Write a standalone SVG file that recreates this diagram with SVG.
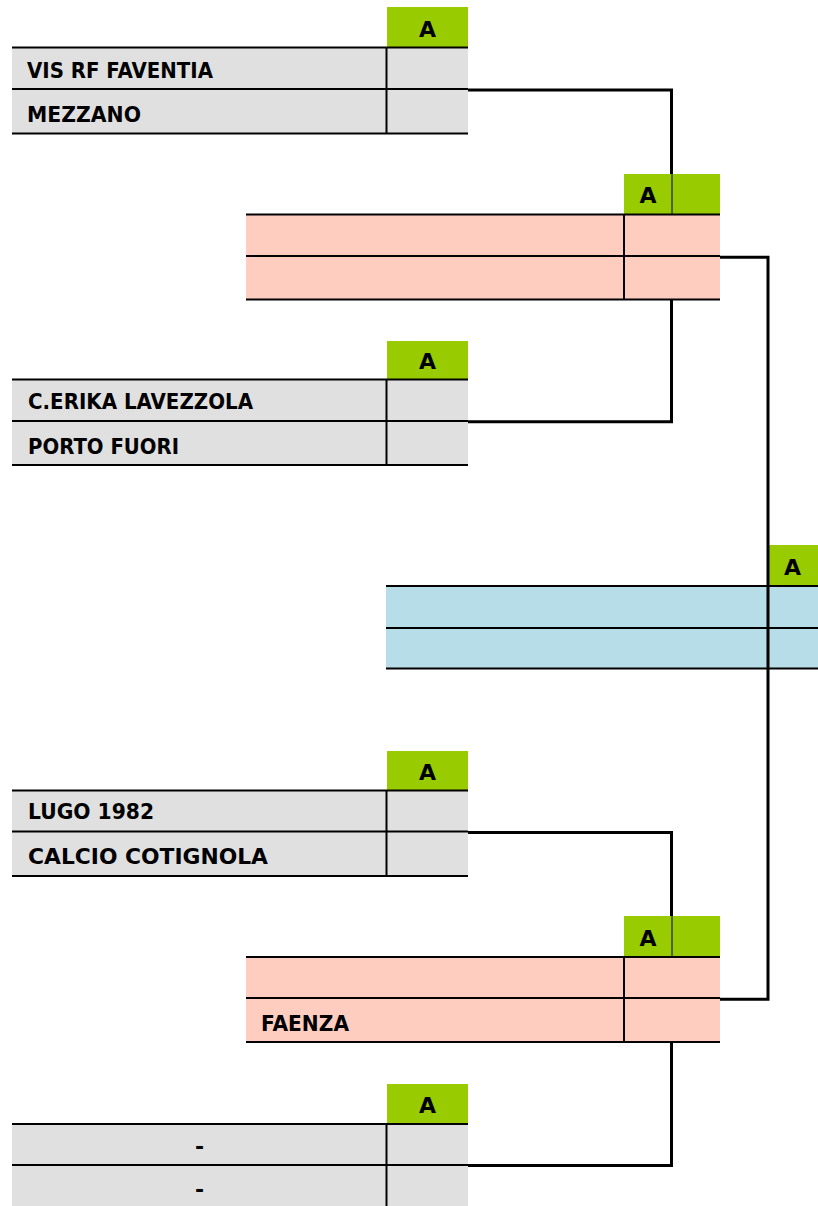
<svg xmlns="http://www.w3.org/2000/svg" width="818" height="1206" viewBox="0 0 818 1206">
<style>
.grey{fill:#E0E0E0}
.pink{fill:#FFCCC0}
.blue{fill:#B7DDE8}
.green{fill:#99CC00}
.hl{stroke:#000;stroke-width:2;fill:none}
.vl{stroke:#000;stroke-width:2;fill:none}
.thin{stroke:#000;stroke-width:1;fill:none}
.conn{stroke:#000;stroke-width:3;fill:none}
text{font-family:"DejaVu Sans","Liberation Sans",sans-serif;font-weight:bold;font-size:22px;fill:#000}
.c{text-anchor:middle}
</style>
<rect width="818" height="1206" fill="#fff"/>

<g id="match1">
<rect class="green" x="387" y="7" width="81" height="40"/>
<text class="c" x="427.5" y="36.5">A</text>
<rect class="grey" x="12" y="47" width="456" height="86"/>
<line class="hl" x1="12" y1="47.5" x2="468" y2="47.5"/>
<line class="hl" x1="12" y1="89" x2="468" y2="89"/>
<line class="hl" x1="12" y1="133.5" x2="468" y2="133.5"/>
<line class="vl" x1="386.5" y1="47" x2="386.5" y2="133"/>
<text x="27" y="78" textLength="186" lengthAdjust="spacingAndGlyphs">VIS RF FAVENTIA</text>
<text x="27" y="121.5" textLength="114" lengthAdjust="spacingAndGlyphs">MEZZANO</text>
</g>

<g id="match2">
<rect class="green" x="624" y="174" width="96" height="40"/>
<line class="thin" x1="672" y1="174" x2="672" y2="214"/>
<text class="c" x="648" y="203.3">A</text>
<rect class="pink" x="246" y="214" width="474" height="86"/>
<line class="hl" x1="246" y1="214.5" x2="720" y2="214.5"/>
<line class="hl" x1="246" y1="256" x2="720" y2="256"/>
<line class="hl" x1="246" y1="299.5" x2="720" y2="299.5"/>
<line class="vl" x1="624" y1="214" x2="624" y2="300"/>
</g>

<g id="match3">
<rect class="green" x="387" y="341" width="81" height="38"/>
<text class="c" x="427.5" y="369">A</text>
<rect class="grey" x="12" y="379" width="456" height="86"/>
<line class="hl" x1="12" y1="379.5" x2="468" y2="379.5"/>
<line class="hl" x1="12" y1="421" x2="468" y2="421"/>
<line class="hl" x1="12" y1="465" x2="468" y2="465"/>
<line class="vl" x1="386.5" y1="379" x2="386.5" y2="465"/>
<text x="28" y="408.5" textLength="225" lengthAdjust="spacingAndGlyphs">C.ERIKA LAVEZZOLA</text>
<text x="28" y="453.5" textLength="151" lengthAdjust="spacingAndGlyphs">PORTO FUORI</text>
</g>

<g id="final">
<rect class="green" x="769" y="545" width="49" height="41"/>
<text class="c" x="792.5" y="575">A</text>
<rect class="blue" x="386" y="586" width="432" height="83"/>
<line class="hl" x1="386" y1="586" x2="818" y2="586"/>
<line class="hl" x1="386" y1="628" x2="818" y2="628"/>
<line class="hl" x1="386" y1="668.5" x2="818" y2="668.5"/>
</g>

<g id="match5">
<rect class="green" x="387" y="751" width="81" height="39"/>
<text class="c" x="427.5" y="780">A</text>
<rect class="grey" x="12" y="790" width="456" height="86"/>
<line class="hl" x1="12" y1="790.5" x2="468" y2="790.5"/>
<line class="hl" x1="12" y1="831.5" x2="468" y2="831.5"/>
<line class="hl" x1="12" y1="876" x2="468" y2="876"/>
<line class="vl" x1="386.5" y1="790" x2="386.5" y2="876"/>
<text x="28" y="818.5" textLength="126" lengthAdjust="spacingAndGlyphs">LUGO 1982</text>
<text x="28" y="864" textLength="240" lengthAdjust="spacingAndGlyphs">CALCIO COTIGNOLA</text>
</g>

<g id="match6">
<rect class="green" x="624" y="916" width="96" height="41"/>
<line class="thin" x1="672" y1="916" x2="672" y2="957"/>
<text class="c" x="648" y="945.5">A</text>
<rect class="pink" x="246" y="957" width="474" height="85"/>
<line class="hl" x1="246" y1="957" x2="720" y2="957"/>
<line class="hl" x1="246" y1="998" x2="720" y2="998"/>
<line class="hl" x1="246" y1="1042" x2="720" y2="1042"/>
<line class="vl" x1="624" y1="957" x2="624" y2="1042"/>
<text x="261" y="1030.5" textLength="88" lengthAdjust="spacingAndGlyphs">FAENZA</text>
</g>

<g id="match7">
<rect class="green" x="387" y="1084" width="81" height="40"/>
<text class="c" x="427.5" y="1113">A</text>
<rect class="grey" x="12" y="1124" width="456" height="82"/>
<line class="hl" x1="12" y1="1124" x2="468" y2="1124"/>
<line class="hl" x1="12" y1="1165" x2="468" y2="1165"/>
<line class="vl" x1="386.5" y1="1124" x2="386.5" y2="1206"/>
<text class="c" x="199.5" y="1154">-</text>
<text class="c" x="199.5" y="1197">-</text>
</g>

<g id="connectors">
<polyline class="conn" points="468,90 671.5,90 671.5,174"/>
<polyline class="conn" points="468,421.8 671.5,421.8 671.5,300"/>
<polyline class="conn" points="720,257.3 768,257.3 768,999.3 720,999.3"/>
<polyline class="conn" points="468,832.5 671.5,832.5 671.5,916"/>
<polyline class="conn" points="468,1165.5 671.5,1165.5 671.5,1042"/>
</g>
</svg>
